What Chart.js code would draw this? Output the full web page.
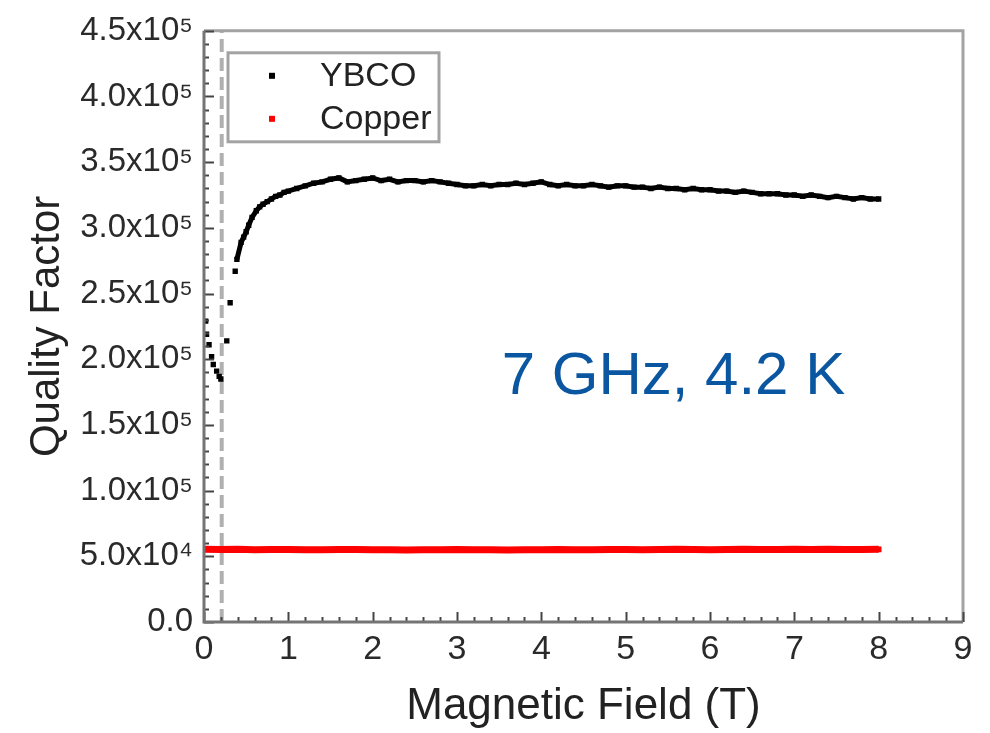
<!DOCTYPE html>
<html>
<head>
<meta charset="utf-8">
<script src="https://cdn.jsdelivr.net/npm/chart.js@4"></script>
<style>
	html, body { margin: 0; padding: 0; background: #fff; }
	#wrap { width: 990px; height: 733px; }
</style>
</head>
<body>
<div id="wrap"><canvas id="qchart" width="990" height="733"></canvas></div>
<script>
// Data: quality factor vs. magnetic field.
var ybcoField = [
	0.02, 0.03, 0.06, 0.09, 0.11, 0.15, 0.18, 0.20, 0.27, 0.31, 0.37, 0.39, 0.44, 0.47, 0.50,
	0.53, 0.57, 0.62, 0.66, 0.70, 0.75, 0.80, 0.85, 0.90, 0.95,
	1.0, 1.1, 1.2, 1.3, 1.4, 1.5, 1.6, 1.7, 1.8, 1.9, 2.0, 2.1, 2.2, 2.3, 2.4, 2.5, 2.6, 2.7, 2.8, 2.9,
	3.0, 3.1, 3.2, 3.3, 3.4, 3.5, 3.6, 3.7, 3.8, 3.9, 4.0, 4.1, 4.2, 4.3, 4.4, 4.5, 4.6, 4.7, 4.8, 4.9,
	5.0, 5.1, 5.2, 5.3, 5.4, 5.5, 5.6, 5.7, 5.8, 5.9, 6.0, 6.1, 6.2, 6.3, 6.4, 6.5, 6.6, 6.7, 6.8, 6.9,
	7.0, 7.1, 7.2, 7.3, 7.4, 7.5, 7.6, 7.7, 7.8, 7.9, 8.0
];
var ybcoQ = [
	229000, 219000, 211000, 202000, 196000, 191000, 187000, 185000, 214000, 243000, 267000, 276000, 289000, 293000, 297000,
	302000, 308000, 313000, 316000, 318000, 320000, 322000, 324000, 325000, 327000,
	328000, 330000, 332000, 334000, 335000, 337000, 338000, 335000, 336000, 337000, 338000, 336000, 337000, 335000, 336000,
	336000, 335000, 336000, 335000, 334000, 333000, 332000, 332000, 333000, 332000, 333000, 333000, 334000, 333000, 334000,
	335000, 333000, 332000, 333000, 332000, 332000, 333000, 332000, 331000, 332000, 332000, 331000, 331000, 330000, 331000,
	330000, 330000, 329000, 330000, 329000, 329000, 328000, 328000, 327000, 328000, 327000, 326000, 326000, 326000, 325000,
	325000, 324000, 325000, 324000, 323000, 324000, 323000, 322000, 323000, 322000, 322000
];
var copperField = [
	0.0, 0.2, 0.4, 0.6, 0.8, 1.0, 1.2, 1.4, 1.6, 1.8, 2.0, 2.2, 2.4, 2.6, 2.8, 3.0, 3.2, 3.4, 3.6, 3.8,
	4.0, 4.2, 4.4, 4.6, 4.8, 5.0, 5.2, 5.4, 5.6, 5.8, 6.0, 6.2, 6.4, 6.6, 6.8, 7.0, 7.2, 7.4, 7.6, 7.8, 8.0
];
var copperQ = [
	55400, 55100, 55300, 55000, 55200, 55100, 54900, 55000, 55200, 55100, 54900, 55000, 54800, 55000, 54900,
	55100, 54900, 55000, 54800, 54900, 55000, 55100, 54900, 55000, 55100, 55200, 55000, 55100, 55300, 55100,
	55000, 55200, 55300, 55100, 55200, 55400, 55200, 55300, 55100, 55200, 55300
];
var xTickLabels = ['0', '1', '2', '3', '4', '5', '6', '7', '8', '9'];
var yTickLabels = [
	'0.0', '5.0x10\u2074', '1.0x10\u2075', '1.5x10\u2075', '2.0x10\u2075',
	'2.5x10\u2075', '3.0x10\u2075', '3.5x10\u2075', '4.0x10\u2075', '4.5x10\u2075'
];
var criticalField = 0.21;
var noteText = '7 GHz, 4.2 K';

var FONT = '"Liberation Sans", Arial, sans-serif';

function toPoints(xs, ys) {
	return xs.map(function(x, i) { return { x: x, y: ys[i] }; });
}

// Frame, inward ticks, dashed marker line, legend box and the note text.
var framePlugin = {
	id: 'frame',
	beforeDatasetsDraw: function(chart) {
		var ctx = chart.ctx, area = chart.chartArea;
		var px = chart.scales.x.getPixelForValue(criticalField);
		ctx.save();
		ctx.strokeStyle = '#b0b0b0';
		ctx.lineWidth = 4;
		ctx.setLineDash([13, 6]);
		ctx.beginPath();
		ctx.moveTo(px, area.bottom);
		ctx.lineTo(px, area.top);
		ctx.stroke();
		ctx.restore();
	},
	afterDraw: function(chart) {
		var ctx = chart.ctx, area = chart.chartArea;
		var xs = chart.scales.x, ys = chart.scales.y;
		var i, p, len;
		ctx.save();

		// top / right border
		ctx.strokeStyle = '#a3a3a3';
		ctx.lineWidth = 3;
		ctx.beginPath();
		ctx.moveTo(area.left, area.top);
		ctx.lineTo(area.right, area.top);
		ctx.lineTo(area.right, area.bottom);
		ctx.stroke();

		// ticks (pointing inward)
		ctx.strokeStyle = '#444';
		ctx.lineWidth = 2;
		for (i = 0; i <= 45; i++) {
			p = Math.round(xs.getPixelForValue(i / 5)) + 0.5;
			len = (i % 5 === 0) ? 10 : 5;
			ctx.beginPath();
			ctx.moveTo(p, area.bottom);
			ctx.lineTo(p, area.bottom - len);
			ctx.stroke();
		}
		for (i = 0; i <= 45; i++) {
			p = Math.round(ys.getPixelForValue(i * 10000)) + 0.5;
			len = (i % 5 === 0) ? 10 : 5;
			ctx.beginPath();
			ctx.moveTo(area.left, p);
			ctx.lineTo(area.left + len, p);
			ctx.stroke();
		}

		// left / bottom axes
		ctx.strokeStyle = '#747474';
		ctx.lineWidth = 3;
		ctx.beginPath();
		ctx.moveTo(area.left, area.top);
		ctx.lineTo(area.left, area.bottom);
		ctx.lineTo(area.right, area.bottom);
		ctx.stroke();

		// legend
		var bx = area.left + 24, by = area.top + 22;
		ctx.strokeStyle = '#a3a3a3';
		ctx.lineWidth = 3;
		ctx.strokeRect(bx, by, 211, 89);
		ctx.font = '34px ' + FONT;
		ctx.textBaseline = 'middle';
		chart.data.datasets.forEach(function(ds, k) {
			var cy = by + 23 + k * 43;
			ctx.fillStyle = ds.pointBackgroundColor;
			ctx.fillRect(bx + 41, cy - 3, 6, 6);
			ctx.fillStyle = '#222';
			ctx.fillText(ds.label, bx + 92, cy + 1);
		});

		// note
		ctx.font = '60px ' + FONT;
		ctx.fillStyle = '#0a56a0';
		ctx.textBaseline = 'alphabetic';
		ctx.fillText(noteText, xs.getPixelForValue(3.53), ys.getPixelForValue(173500));

		ctx.restore();
	}
};

var cfg = {
	type: 'scatter',
	data: {
		datasets: [
			{
				label: 'YBCO',
				data: toPoints(ybcoField, ybcoQ),
				pointStyle: 'rect',
				pointRadius: 3.8,
				pointBackgroundColor: '#000',
				pointBorderWidth: 0,
				showLine: true,
				borderColor: '#000',
				borderWidth: 5,
				segment: {
					borderColor: function(c) { return c.p1.parsed.x < 0.43 ? 'rgba(0,0,0,0)' : '#000'; }
				}
			},
			{
				label: 'Copper',
				data: toPoints(copperField, copperQ),
				pointStyle: 'rect',
				pointRadius: 4,
				pointBackgroundColor: '#ff0000',
				pointBorderWidth: 0,
				showLine: true,
				borderColor: '#ff0000',
				borderWidth: 7
			}
		]
	},
	options: {
		responsive: false,
		animation: false,
		devicePixelRatio: 1,
		layout: { padding: { left: 0, top: 28, right: 27, bottom: 0 } },
		plugins: {
			legend: { display: false },
			tooltip: { enabled: false }
		},
		scales: {
			x: {
				type: 'linear',
				min: 0,
				max: 9,
				grid: { display: false, drawTicks: false },
				border: { display: false },
				ticks: {
					stepSize: 1,
					padding: 7,
					color: '#2a2a2a',
					font: { family: FONT, size: 34 },
					callback: function(v) { return xTickLabels[Math.round(v)]; }
				},
				title: {
					display: true,
					text: 'Magnetic Field (T)',
					color: '#222',
					font: { family: FONT, size: 44 },
					padding: { top: 0, bottom: 0 }
				},
				afterFit: function(scale) { scale.height = 111; }
			},
			y: {
				type: 'linear',
				min: 0,
				max: 450000,
				grid: { display: false, drawTicks: false },
				border: { display: false },
				ticks: {
					stepSize: 50000,
					padding: 11,
					color: '#2a2a2a',
					font: { family: FONT, size: 33 },
					callback: function(v) { return yTickLabels[Math.round(v / 50000)]; }
				},
				title: {
					display: true,
					text: 'Quality Factor',
					color: '#222',
					font: { family: FONT, size: 42 },
					padding: { top: 22, bottom: 0 }
				},
				afterFit: function(scale) { scale.width = 204; }
			}
		}
	},
	plugins: [framePlugin]
};

new Chart(document.getElementById('qchart').getContext('2d'), cfg);
</script>
</body>
</html>
